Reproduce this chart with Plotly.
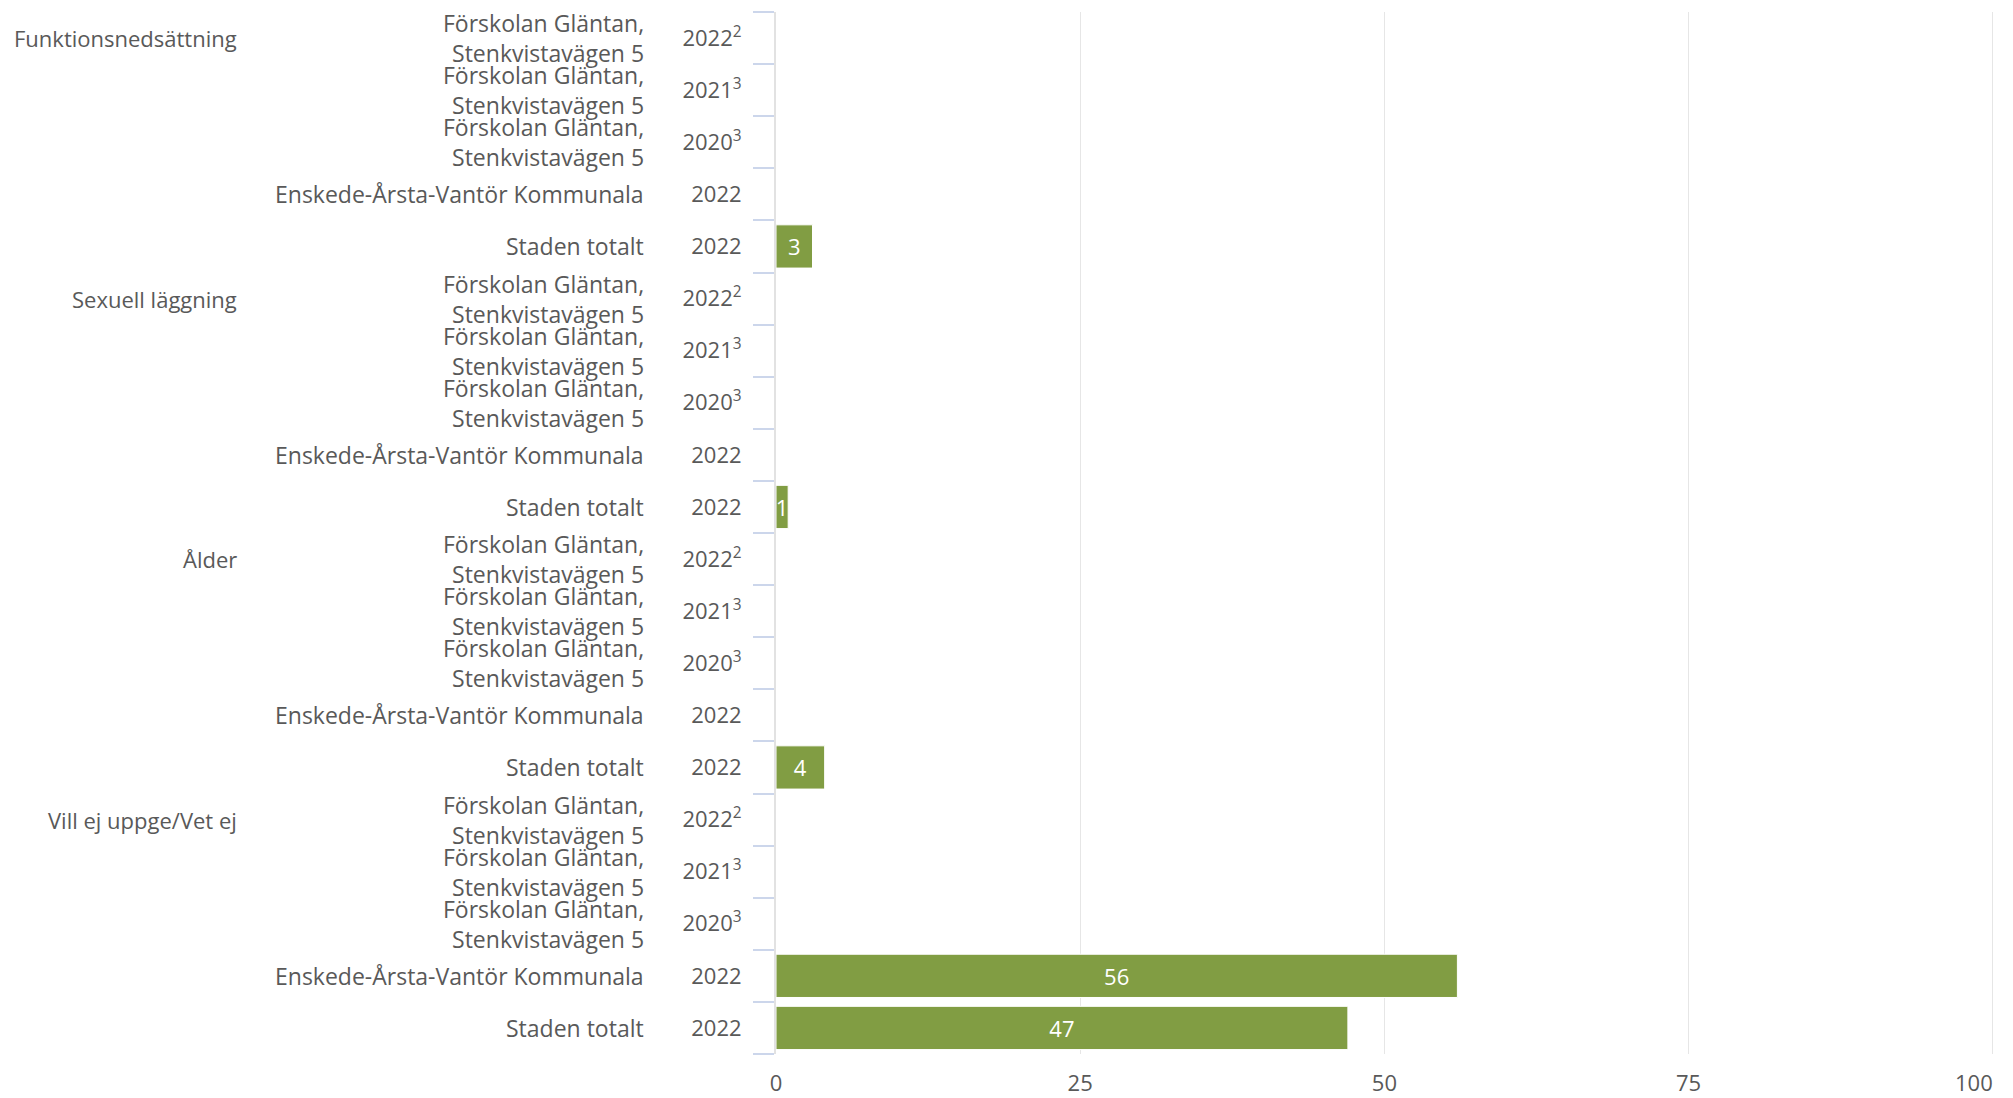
import plotly.graph_objects as go

groups = ["Funktionsnedsättning", "Sexuell läggning", "Ålder", "Vill ej uppge/Vet ej"]
units = ["Förskolan Gläntan,<br>Stenkvistavägen 5",
         "Förskolan Gläntan,<br>Stenkvistavägen 5",
         "Förskolan Gläntan,<br>Stenkvistavägen 5",
         "Enskede-Årsta-Vantör Kommunala",
         "Staden totalt"]
years = ["2022", "2021", "2020", "2022", "2022"]
notes = ["2", "3", "3", "", ""]
values = {
    "Funktionsnedsättning": [None, None, None, None, 3],
    "Sexuell läggning": [None, None, None, None, 1],
    "Ålder": [None, None, None, None, 4],
    "Vill ej uppge/Vet ej": [None, None, None, 56, 47],
}
x_ticks = [0, 25, 50, 75, 100]
x_ticklabels = ["0", "25", "50", "75", "100\u2007\u2007\u2007"]

FONT = "Open Sans"
FS = 22
TXT = "#595959"
BAR = "#819d43"

ys, xs, ytext, unit_rows, group_rows = [], [], [], [], []
i = 0
for g in groups:
    group_rows.append((i, g))
    for u, yr, n, v in zip(units, years, notes, values[g]):
        ys.append(i)
        xs.append(v)
        ytext.append(yr + (f"<sup>{n}</sup>" if n else ""))
        unit_rows.append((i, u))
        i += 1
nrows = i

fig = go.Figure()
fig.add_trace(go.Bar(
    x=xs, y=ys, orientation="h",
    marker=dict(color=BAR, line=dict(color="white", width=1)),
    texttemplate="%{x}", textposition="inside", insidetextanchor="middle",
    textfont=dict(family=FONT, size=FS, color="white"),
    width=0.83, hoverinfo="skip", showlegend=False,
))

annotations = []
for r, u in unit_rows:
    annotations.append(dict(x=0, xref="paper", y=r, yref="y", text=u,
                            xanchor="right", yanchor="middle", align="right",
                            xshift=-130, showarrow=False,
                            font=dict(family=FONT, size=23, color=TXT)))
for r, g in group_rows:
    annotations.append(dict(x=0, xref="paper", y=r, yref="y", text=g,
                            xanchor="right", yanchor="middle", align="right",
                            xshift=-537, showarrow=False,
                            font=dict(family=FONT, size=FS, color=TXT)))

fig.update_layout(
    width=2013, height=1098,
    margin=dict(l=776, r=19, t=12, b=44),
    plot_bgcolor="white", paper_bgcolor="white",
    font=dict(family=FONT, size=FS, color=TXT),
    uniformtext=dict(mode="show", minsize=FS),
    annotations=annotations,
    bargap=0.17,
)
fig.update_xaxes(
    range=[0, 100.1], tickvals=x_ticks, ticktext=x_ticklabels, ticks="", showgrid=True,
    automargin=False, gridcolor="#e6e6e6", gridwidth=1, zeroline=False, showline=False,
    tickfont=dict(family=FONT, size=FS, color=TXT), ticklabelstandoff=14,
    ticklabeloverflow="allow",
)
fig.update_yaxes(
    range=[nrows - 0.5, -0.5], tickvals=ys, ticktext=ytext, ticks="", automargin=False,
    showgrid=False, zeroline=False, showline=True, linecolor="#e2e2e2", linewidth=2,
    tickfont=dict(family=FONT, size=FS, color=TXT), ticklabelstandoff=28,
    minor=dict(tickvals=[k - 0.5 for k in range(nrows + 1)], ticks="outside",
               ticklen=21, tickcolor="#ccd6eb", tickwidth=2, showgrid=False),
)

fig.write_html("out.html", config={"displayModeBar": False},
               post_script="document.body.style.margin='0';document.body.style.overflow='hidden';")
